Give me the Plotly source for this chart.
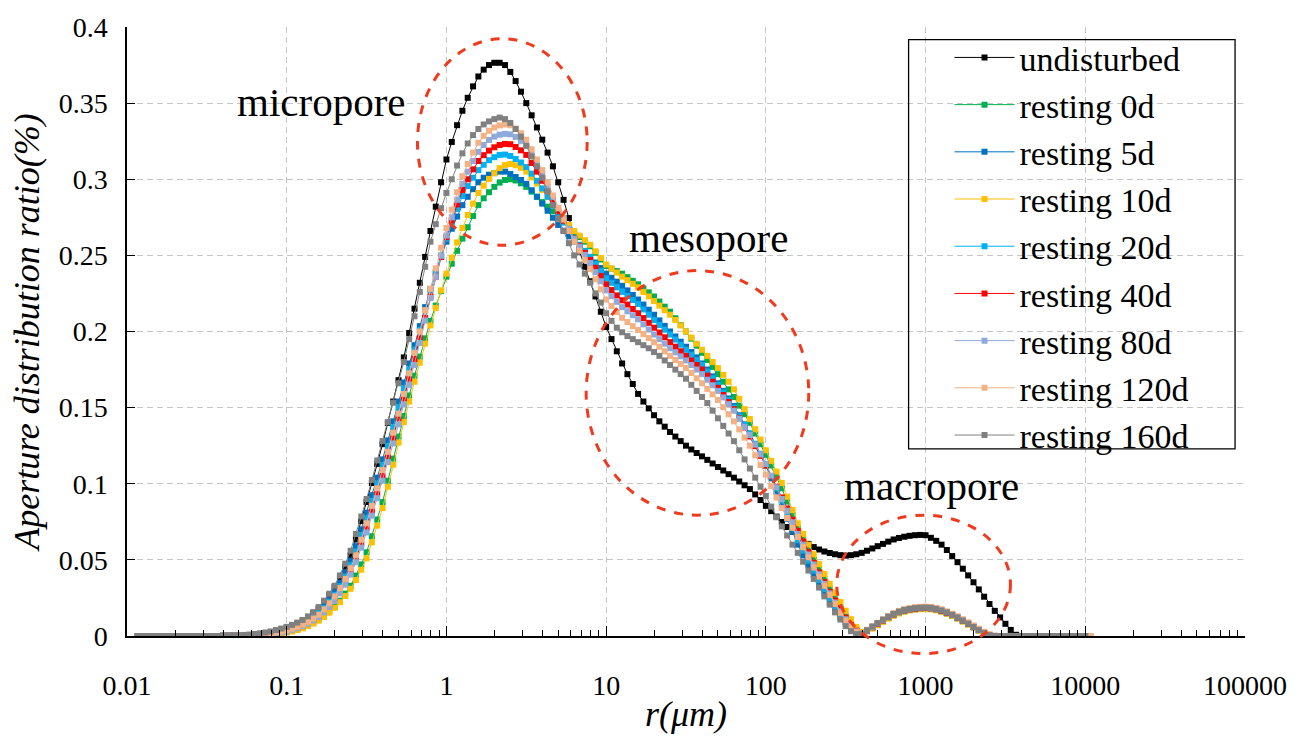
import plotly.graph_objects as go

# pore radius r (um), log grid of the instrument (30 points per decade)
r_um = [
    0.01166, 0.01259, 0.01359, 0.01468, 0.01585, 0.01711, 0.01848, 0.01995, 0.02154, 0.02326,
    0.02512, 0.02712, 0.02929, 0.03162, 0.03415, 0.03687, 0.03981, 0.04299, 0.04642, 0.05012,
    0.05412, 0.05843, 0.0631, 0.06813, 0.07356, 0.07943, 0.08577, 0.09261,
    0.1, 0.108, 0.1166, 0.1259, 0.1359, 0.1468, 0.1585, 0.1711, 0.1848, 0.1995,
    0.2154, 0.2326, 0.2512, 0.2712, 0.2929, 0.3162, 0.3415, 0.3687, 0.3981, 0.4299,
    0.4642, 0.5012, 0.5412, 0.5843, 0.631, 0.6813, 0.7356, 0.7943, 0.8577, 0.9261,
    1, 1.08, 1.166, 1.259, 1.359, 1.468, 1.585, 1.711, 1.848, 1.995,
    2.154, 2.326, 2.512, 2.712, 2.929, 3.162, 3.415, 3.687, 3.981, 4.299,
    4.642, 5.012, 5.412, 5.843, 6.31, 6.813, 7.356, 7.943, 8.577, 9.261,
    10, 10.8, 11.66, 12.59, 13.59, 14.68, 15.85, 17.11, 18.48, 19.95,
    21.54, 23.26, 25.12, 27.12, 29.29, 31.62, 34.15, 36.87, 39.81, 42.99,
    46.42, 50.12, 54.12, 58.43, 63.1, 68.13, 73.56, 79.43, 85.77, 92.61,
    100, 108, 116.6, 125.9, 135.9, 146.8, 158.5, 171.1, 184.8, 199.5,
    215.4, 232.6, 251.2, 271.2, 292.9, 316.2, 341.5, 368.7, 398.1, 429.9,
    464.2, 501.2, 541.2, 584.3, 631, 681.3, 735.6, 794.3, 857.7, 926.1,
    1000, 1080, 1166, 1259, 1359, 1468, 1585, 1711, 1848, 1995,
    2154, 2326, 2512, 2712, 2929, 3162, 3415, 3687, 3981, 4299,
    4642, 5012, 5412, 5843, 6310, 6813, 7356, 7943, 8577, 9261,
    10000, 10800,
]

undisturbed = [
    0, 0, 0, 0, 0, 0, 0, 0, 0, 0, 0, 0, 0, 0, 0, 0,
    0.0001, 0.0002, 0.0003, 0.0004, 0.0005, 0.0007, 0.001, 0.0014, 0.0019, 0.0025, 0.0034, 0.0044,
    0.0055, 0.0068, 0.0083, 0.01, 0.0123, 0.015, 0.018, 0.0222, 0.0268, 0.032,
    0.0385, 0.0455, 0.053, 0.0635, 0.0755, 0.088, 0.1005, 0.113, 0.126, 0.14,
    0.154, 0.168, 0.183, 0.199, 0.215, 0.232, 0.249, 0.266, 0.282, 0.298,
    0.313, 0.3245, 0.3355, 0.345, 0.3535, 0.361, 0.3675, 0.372, 0.375, 0.3765,
    0.3765, 0.375, 0.3705, 0.3645, 0.3575, 0.35, 0.342, 0.334, 0.326, 0.3175,
    0.3085, 0.298, 0.2865, 0.2745, 0.263, 0.2525, 0.2425, 0.233, 0.223, 0.213,
    0.203, 0.195, 0.187, 0.179, 0.172, 0.1655, 0.159, 0.154, 0.1495, 0.145,
    0.141, 0.1375, 0.134, 0.131, 0.128, 0.125, 0.1225, 0.1202, 0.118, 0.1157,
    0.1133, 0.111, 0.1087, 0.1063, 0.104, 0.1015, 0.099, 0.0965, 0.093, 0.0893,
    0.0855, 0.082, 0.0784, 0.0749, 0.0716, 0.0684, 0.0654, 0.0628, 0.0605, 0.0584,
    0.0568, 0.0555, 0.0545, 0.0537, 0.0531, 0.0528, 0.0531, 0.0537, 0.0546, 0.056,
    0.0575, 0.059, 0.0605, 0.062, 0.0634, 0.0644, 0.0652, 0.0658, 0.0662, 0.0664,
    0.0662, 0.0645, 0.0625, 0.06, 0.0565, 0.0525, 0.0485, 0.0442, 0.0398, 0.0353,
    0.0306, 0.0258, 0.021, 0.0165, 0.0122, 0.008, 0.004, 0.0008, 0, 0,
    0, 0, 0, 0, 0, 0, 0, 0, 0, 0,
    0, None,
]

resting_0d = [
    0, 0, 0, 0, 0, 0, 0, 0, 0, 0, 0, 0, 0, 0, 0, 0,
    0.0001, 0.0001, 0.0001, 0.0002, 0.0002, 0.0003, 0.0004, 0.0006, 0.0008, 0.001, 0.0014, 0.0019,
    0.0025, 0.0033, 0.0043, 0.0055, 0.0071, 0.0089, 0.011, 0.0133, 0.016, 0.019,
    0.0232, 0.0278, 0.033, 0.0397, 0.047, 0.055, 0.0655, 0.0765, 0.088, 0.102,
    0.1165, 0.131, 0.1445, 0.158, 0.171, 0.1835, 0.1955, 0.207, 0.217, 0.2265,
    0.236, 0.2445, 0.253, 0.261, 0.2685, 0.2758, 0.283, 0.2875, 0.2915, 0.295,
    0.2978, 0.2995, 0.3, 0.2992, 0.2973, 0.295, 0.2918, 0.2885, 0.285, 0.282,
    0.279, 0.276, 0.2723, 0.2687, 0.265, 0.262, 0.259, 0.256, 0.2517, 0.2473,
    0.243, 0.2413, 0.2397, 0.238, 0.2357, 0.2333, 0.231, 0.2283, 0.2257, 0.223,
    0.2197, 0.2163, 0.213, 0.2087, 0.2043, 0.2, 0.1953, 0.1907, 0.186, 0.1813,
    0.1767, 0.172, 0.167, 0.162, 0.157, 0.1513, 0.1457, 0.14, 0.133, 0.126,
    0.119, 0.112, 0.1045, 0.097, 0.0883, 0.0795, 0.071, 0.0638, 0.0568, 0.05,
    0.0437, 0.0373, 0.031, 0.025, 0.019, 0.013, 0.008, 0.0042, 0.0022, 0.0035,
    0.0055, 0.0075, 0.0097, 0.0118, 0.0136, 0.0151, 0.0162, 0.017, 0.0175, 0.0178,
    0.0179, 0.0177, 0.0171, 0.0161, 0.0148, 0.0133, 0.0116, 0.0097, 0.0077, 0.0057,
    0.0037, 0.0018, 0.0005, 0, 0, 0, 0, 0, 0, 0,
    0, 0, 0, 0, 0, 0, 0, 0, 0, 0,
    0, None,
]

resting_5d = [
    0, 0, 0, 0, 0, 0, 0, 0, 0, 0, 0, 0, 0, 0, 0, 0,
    0.0001, 0.0001, 0.0002, 0.0003, 0.0004, 0.0006, 0.0008, 0.0011, 0.0015, 0.002, 0.0027, 0.0035,
    0.0045, 0.0056, 0.0069, 0.0085, 0.0106, 0.0131, 0.016, 0.0197, 0.024, 0.029,
    0.035, 0.0418, 0.0495, 0.059, 0.07, 0.081, 0.0925, 0.104, 0.116, 0.1285,
    0.141, 0.154, 0.1665, 0.179, 0.191, 0.2035, 0.216, 0.228, 0.239, 0.249,
    0.259, 0.2675, 0.2755, 0.283, 0.2885, 0.2935, 0.298, 0.301, 0.303, 0.304,
    0.305, 0.305, 0.3035, 0.3015, 0.2995, 0.297, 0.2928, 0.2885, 0.284, 0.2793,
    0.2747, 0.27, 0.2662, 0.2625, 0.259, 0.2557, 0.2523, 0.249, 0.2453, 0.2417,
    0.238, 0.2353, 0.2327, 0.23, 0.227, 0.224, 0.221, 0.2177, 0.2143, 0.211,
    0.2073, 0.2037, 0.2, 0.1967, 0.1933, 0.19, 0.1865, 0.183, 0.179, 0.175,
    0.1705, 0.166, 0.161, 0.156, 0.151, 0.145, 0.139, 0.133, 0.126, 0.119,
    0.112, 0.1035, 0.0948, 0.086, 0.077, 0.0685, 0.06, 0.053, 0.0465, 0.04,
    0.034, 0.028, 0.022, 0.017, 0.012, 0.008, 0.0045, 0.0018, 0.001, 0.0032,
    0.0055, 0.0078, 0.0099, 0.012, 0.0138, 0.0153, 0.0164, 0.0172, 0.0177, 0.018,
    0.0181, 0.0179, 0.0173, 0.0163, 0.015, 0.0135, 0.0118, 0.0099, 0.0079, 0.0058,
    0.0038, 0.0019, 0.0005, 0, 0, 0, 0, 0, 0, 0,
    0, 0, 0, 0, 0, 0, 0, 0, 0, 0,
    0, None,
]

resting_10d = [
    0, 0, 0, 0, 0, 0, 0, 0, 0, 0, 0, 0, 0, 0, 0, 0,
    0.0001, 0.0001, 0.0001, 0.0002, 0.0002, 0.0003, 0.0004, 0.0005, 0.0007, 0.001, 0.0013, 0.0017,
    0.0023, 0.003, 0.0039, 0.005, 0.0065, 0.0081, 0.01, 0.0125, 0.0153, 0.0185,
    0.0222, 0.0263, 0.031, 0.0368, 0.0435, 0.051, 0.0615, 0.0725, 0.084, 0.098,
    0.1125, 0.127, 0.1405, 0.154, 0.167, 0.1795, 0.192, 0.204, 0.2155, 0.227,
    0.238, 0.2485, 0.2585, 0.268, 0.2765, 0.284, 0.291, 0.2958, 0.3002, 0.304,
    0.3073, 0.3093, 0.31, 0.3092, 0.3075, 0.305, 0.3012, 0.2972, 0.293, 0.2883,
    0.2837, 0.279, 0.2745, 0.27, 0.266, 0.263, 0.26, 0.257, 0.2527, 0.2483,
    0.244, 0.2413, 0.2387, 0.236, 0.2337, 0.2313, 0.229, 0.226, 0.223, 0.22,
    0.217, 0.214, 0.211, 0.2075, 0.204, 0.2, 0.196, 0.192, 0.188, 0.184,
    0.18, 0.176, 0.1715, 0.167, 0.162, 0.1558, 0.149, 0.1425, 0.1358, 0.129,
    0.122, 0.115, 0.108, 0.1005, 0.0915, 0.0827, 0.074, 0.067, 0.06, 0.0537,
    0.0472, 0.0407, 0.0343, 0.0283, 0.0223, 0.0166, 0.011, 0.006, 0.0028, 0.003,
    0.0048, 0.007, 0.0092, 0.0114, 0.0133, 0.0148, 0.016, 0.0168, 0.0173, 0.0176,
    0.0177, 0.0175, 0.0169, 0.0159, 0.0146, 0.0131, 0.0114, 0.0095, 0.0075, 0.0055,
    0.0035, 0.0017, 0.0004, 0, 0, 0, 0, 0, 0, 0,
    0, 0, 0, 0, 0, 0, 0, 0, 0, 0,
    0, None,
]

resting_20d = [
    0, 0, 0, 0, 0, 0, 0, 0, 0, 0, 0, 0, 0, 0, 0, 0,
    0.0001, 0.0001, 0.0002, 0.0003, 0.0004, 0.0005, 0.0007, 0.001, 0.0014, 0.0018, 0.0024, 0.0031,
    0.004, 0.0051, 0.0064, 0.008, 0.0099, 0.0122, 0.015, 0.0184, 0.0224, 0.027,
    0.0327, 0.039, 0.0465, 0.0555, 0.066, 0.077, 0.0885, 0.1, 0.112, 0.1245,
    0.137, 0.15, 0.1625, 0.175, 0.188, 0.201, 0.214, 0.227, 0.2385, 0.25,
    0.261, 0.271, 0.2805, 0.289, 0.2955, 0.301, 0.306, 0.3095, 0.3125, 0.3145,
    0.316, 0.3162, 0.3153, 0.3133, 0.311, 0.308, 0.3037, 0.299, 0.294, 0.2885,
    0.2827, 0.277, 0.2715, 0.266, 0.261, 0.257, 0.253, 0.249, 0.2443, 0.2397,
    0.235, 0.232, 0.229, 0.226, 0.2233, 0.2207, 0.218, 0.2145, 0.211, 0.2075,
    0.2043, 0.2012, 0.198, 0.1947, 0.1913, 0.188, 0.1847, 0.1813, 0.178, 0.1737,
    0.1693, 0.165, 0.16, 0.155, 0.15, 0.1443, 0.1387, 0.133, 0.1263, 0.1197,
    0.113, 0.105, 0.097, 0.089, 0.08, 0.0713, 0.063, 0.0562, 0.0495, 0.043,
    0.0368, 0.0308, 0.025, 0.0195, 0.014, 0.009, 0.005, 0.002, 0.0012, 0.0034,
    0.0057, 0.008, 0.0102, 0.0123, 0.0141, 0.0156, 0.0167, 0.0174, 0.0179, 0.0182,
    0.0183, 0.0181, 0.0175, 0.0165, 0.0152, 0.0137, 0.012, 0.0101, 0.0081, 0.006,
    0.004, 0.002, 0.0006, 0, 0, 0, 0, 0, 0, 0,
    0, 0, 0, 0, 0, 0, 0, 0, 0, 0,
    0, None,
]

resting_40d = [
    0, 0, 0, 0, 0, 0, 0, 0, 0, 0, 0, 0, 0, 0, 0, 0,
    0.0001, 0.0001, 0.0001, 0.0002, 0.0003, 0.0004, 0.0006, 0.0008, 0.0011, 0.0015, 0.002, 0.0027,
    0.0035, 0.0045, 0.0056, 0.007, 0.0088, 0.011, 0.0135, 0.0168, 0.0206, 0.025,
    0.0302, 0.0358, 0.0425, 0.0508, 0.0605, 0.071, 0.082, 0.0935, 0.105, 0.1175,
    0.13, 0.143, 0.156, 0.169, 0.182, 0.1955, 0.209, 0.223, 0.236, 0.249,
    0.262, 0.273, 0.2835, 0.293, 0.3, 0.3065, 0.312, 0.3158, 0.3188, 0.321,
    0.3225, 0.3232, 0.323, 0.3212, 0.319, 0.316, 0.3107, 0.305, 0.299, 0.2925,
    0.2858, 0.279, 0.2728, 0.2668, 0.261, 0.2562, 0.2516, 0.247, 0.2418, 0.2364,
    0.231, 0.2272, 0.2237, 0.2205, 0.2177, 0.2148, 0.212, 0.2088, 0.2057, 0.2025,
    0.1993, 0.1962, 0.193, 0.19, 0.187, 0.184, 0.181, 0.178, 0.175, 0.171,
    0.167, 0.163, 0.1583, 0.1537, 0.149, 0.143, 0.137, 0.131, 0.1247, 0.1183,
    0.112, 0.105, 0.098, 0.091, 0.0837, 0.0763, 0.069, 0.062, 0.055, 0.048,
    0.0417, 0.0353, 0.029, 0.0233, 0.0177, 0.012, 0.0072, 0.0035, 0.0018, 0.0035,
    0.0058, 0.008, 0.0102, 0.0124, 0.0142, 0.0157, 0.0168, 0.0175, 0.018, 0.0183,
    0.0184, 0.0182, 0.0176, 0.0166, 0.0153, 0.0138, 0.0121, 0.0102, 0.0082, 0.0061,
    0.004, 0.0021, 0.0006, 0, 0, 0, 0, 0, 0, 0,
    0, 0, 0, 0, 0, 0, 0, 0, 0, 0,
    0, None,
]

resting_80d = [
    0, 0, 0, 0, 0, 0, 0, 0, 0, 0, 0, 0, 0, 0, 0, 0,
    0.0001, 0.0001, 0.0001, 0.0002, 0.0003, 0.0004, 0.0005, 0.0007, 0.001, 0.0013, 0.0018, 0.0023,
    0.003, 0.004, 0.0051, 0.0065, 0.0082, 0.0102, 0.0125, 0.0155, 0.019, 0.023,
    0.028, 0.0337, 0.0403, 0.0485, 0.058, 0.068, 0.079, 0.0905, 0.102, 0.1142,
    0.1265, 0.139, 0.152, 0.165, 0.178, 0.1925, 0.2072, 0.222, 0.236, 0.2497,
    0.263, 0.275, 0.2865, 0.297, 0.305, 0.312, 0.318, 0.3225, 0.3258, 0.328,
    0.3293, 0.3298, 0.3295, 0.3278, 0.3252, 0.322, 0.316, 0.3097, 0.303, 0.2957,
    0.2883, 0.281, 0.2742, 0.2675, 0.261, 0.2557, 0.2503, 0.245, 0.239, 0.233,
    0.227, 0.2232, 0.2195, 0.216, 0.2133, 0.2107, 0.208, 0.2047, 0.2013, 0.198,
    0.195, 0.192, 0.189, 0.1863, 0.1837, 0.181, 0.178, 0.175, 0.172, 0.1683,
    0.1647, 0.161, 0.1567, 0.1523, 0.148, 0.1427, 0.1373, 0.132, 0.1257, 0.1193,
    0.113, 0.1053, 0.0977, 0.09, 0.0823, 0.0747, 0.067, 0.06, 0.0535, 0.047,
    0.0405, 0.0342, 0.028, 0.022, 0.0162, 0.011, 0.0065, 0.003, 0.0018, 0.0037,
    0.006, 0.0083, 0.0106, 0.0127, 0.0145, 0.016, 0.0171, 0.0178, 0.0184, 0.0187,
    0.0188, 0.0186, 0.018, 0.017, 0.0157, 0.0141, 0.0124, 0.0105, 0.0085, 0.0064,
    0.0043, 0.0023, 0.0008, 0.0001, 0, 0, 0, 0, 0, 0,
    0, 0, 0, 0, 0, 0, 0, 0, 0, 0,
    0, 0,
]

resting_120d = [
    0, 0, 0, 0, 0, 0, 0, 0, 0, 0, 0, 0, 0, 0, 0, 0,
    0.0001, 0.0001, 0.0002, 0.0003, 0.0004, 0.0005, 0.0007, 0.001, 0.0013, 0.0017, 0.0023, 0.003,
    0.0038, 0.0048, 0.006, 0.0075, 0.0093, 0.0115, 0.014, 0.0175, 0.0215, 0.026,
    0.0315, 0.0375, 0.0445, 0.053, 0.0632, 0.074, 0.0855, 0.097, 0.109, 0.121,
    0.1335, 0.146, 0.159, 0.1725, 0.186, 0.2, 0.214, 0.228, 0.2415, 0.255,
    0.268, 0.28, 0.2915, 0.302, 0.31, 0.3175, 0.324, 0.3285, 0.3318, 0.334,
    0.3354, 0.336, 0.3355, 0.3333, 0.3302, 0.326, 0.3197, 0.313, 0.306, 0.2977,
    0.2893, 0.281, 0.2735, 0.266, 0.259, 0.253, 0.247, 0.241, 0.2343, 0.2277,
    0.221, 0.2168, 0.2128, 0.209, 0.2062, 0.2035, 0.201, 0.1983, 0.1957, 0.193,
    0.19, 0.187, 0.184, 0.1813, 0.1787, 0.176, 0.1727, 0.1693, 0.166, 0.1623,
    0.1587, 0.155, 0.1503, 0.1457, 0.141, 0.1357, 0.1303, 0.125, 0.1187, 0.1123,
    0.106, 0.0985, 0.091, 0.084, 0.0775, 0.071, 0.065, 0.0583, 0.0517, 0.045,
    0.039, 0.033, 0.027, 0.021, 0.0152, 0.01, 0.0058, 0.0028, 0.002, 0.0041,
    0.0064, 0.0087, 0.011, 0.0131, 0.015, 0.0165, 0.0176, 0.0183, 0.0189, 0.0192,
    0.0193, 0.0191, 0.0185, 0.0175, 0.0162, 0.0146, 0.0129, 0.011, 0.009, 0.0069,
    0.0048, 0.0028, 0.0012, 0.0003, 0, 0, 0, 0, 0, 0,
    0, 0, 0, 0, 0, 0, 0, 0, 0, 0,
    0, 0,
]

resting_160d = [
    0, 0, 0, 0, 0, 0, 0, 0, 0, 0, 0, 0, 0, 0, 0, 0,
    0.0002, 0.0003, 0.0004, 0.0005, 0.0007, 0.0009, 0.0012, 0.0017, 0.0023, 0.003, 0.0039, 0.0049,
    0.006, 0.0073, 0.0088, 0.0105, 0.0129, 0.0157, 0.019, 0.0232, 0.0278, 0.033,
    0.0398, 0.0475, 0.056, 0.067, 0.0785, 0.09, 0.1025, 0.1153, 0.128, 0.1405,
    0.1532, 0.166, 0.18, 0.195, 0.21, 0.226, 0.2425, 0.259, 0.2705, 0.281,
    0.291, 0.3, 0.309, 0.317, 0.3235, 0.329, 0.333, 0.336, 0.338, 0.3395,
    0.3405, 0.3395, 0.337, 0.333, 0.328, 0.322, 0.315, 0.3085, 0.301, 0.292,
    0.283, 0.274, 0.266, 0.258, 0.25, 0.244, 0.238, 0.232, 0.225, 0.219,
    0.212, 0.207, 0.2025, 0.1995, 0.197, 0.195, 0.193, 0.191, 0.189, 0.1865,
    0.184, 0.181, 0.178, 0.175, 0.172, 0.169, 0.165, 0.161, 0.157, 0.153,
    0.148, 0.143, 0.138, 0.133, 0.128, 0.122, 0.116, 0.11, 0.104, 0.098,
    0.092, 0.085, 0.078, 0.072, 0.066, 0.06, 0.0546, 0.0488, 0.043, 0.0375,
    0.0318, 0.026, 0.0206, 0.0155, 0.0108, 0.0065, 0.0032, 0.0012, 0.0015, 0.0038,
    0.0062, 0.0085, 0.0107, 0.0127, 0.0145, 0.016, 0.0171, 0.0178, 0.0183, 0.0186,
    0.0187, 0.0185, 0.0178, 0.0168, 0.0155, 0.0139, 0.0122, 0.0102, 0.0081, 0.006,
    0.0039, 0.002, 0.0006, 0, 0, 0, 0, 0, 0, 0,
    0, 0, 0, 0, 0, 0, 0, 0, 0, 0,
    0, None,
]

series = [
    ("undisturbed", undisturbed, "#000000"),
    ("resting 0d", resting_0d, "#00b050"),
    ("resting 5d", resting_5d, "#0070c0"),
    ("resting 10d", resting_10d, "#ffc000"),
    ("resting 20d", resting_20d, "#00b0f0"),
    ("resting 40d", resting_40d, "#ff0000"),
    ("resting 80d", resting_80d, "#8eaadb"),
    ("resting 120d", resting_120d, "#f4b183"),
    ("resting 160d", resting_160d, "#808080"),
]

x_ticks = [0.01, 0.1, 1, 10, 100, 1000, 10000, 100000]
x_labels = ["0.01", "0.1", "1", "10", "100", "1000", "10000", "100000"]
y_ticks = [0, 0.05, 0.1, 0.15, 0.2, 0.25, 0.3, 0.35, 0.4]
y_labels = ["0", "0.05", "0.1", "0.15", "0.2", "0.25", "0.3", "0.35", "0.4"]

# ticks menores do eixo log (2..9 em cada decada)
minor_vals = [d * m for d in x_ticks[:-1] for m in range(2, 10)]

serif = "Liberation Serif, Times New Roman, serif"
vermelho = "rgb(240,58,30)"

fig = go.Figure()
for nome, valores, cor in series:
    assert len(valores) == len(r_um), nome
    fig.add_trace(go.Scatter(
        x=r_um,
        y=valores,
        mode="lines+markers",
        name=nome,
        line=dict(color=cor, width=1),
        marker=dict(symbol="square", size=6, color=cor),
    ))

# elipses tracejadas (em coordenadas do papel)
elipses = [
    (0.2598, 0.6416, 0.4116, 0.9808),
    (0.4107, 0.1984, 0.6098, 0.6000),
    (0.6348, -0.0288, 0.7902, 0.1984),
]
for x0, y0, x1, y1 in elipses:
    fig.add_shape(type="circle", xref="paper", yref="paper", x0=x0, y0=y0, x1=x1, y1=y1,
                  line=dict(color=vermelho, width=3, dash="dash"), layer="above")

# caixa da legenda
fig.add_shape(type="rect", xref="paper", yref="paper", x0=0.6991, y0=0.3072, x1=0.9911, y1=0.9792,
              line=dict(color="black", width=1.3), fillcolor="rgba(0,0,0,0)", layer="above")

rotulos = [("micropore", 0.1732, 0.877), ("mesopore", 0.5197, 0.654), ("macropore", 0.7197, 0.246)]
for texto, px, py in rotulos:
    fig.add_annotation(text=texto, x=px, y=py, xref="paper", yref="paper", showarrow=False,
                       xanchor="center", yanchor="middle", font=dict(family=serif, size=41, color="black"))

fig.update_layout(
    width=1299,
    height=739,
    margin=dict(l=127, r=52, t=22, b=92),
    plot_bgcolor="white",
    paper_bgcolor="white",
    font=dict(family=serif, size=28, color="black"),
    legend=dict(
        x=0.7357, y=0.997, xanchor="left", yanchor="top",
        bgcolor="rgba(0,0,0,0)", borderwidth=0,
        font=dict(family=serif, size=34, color="black"),
        itemwidth=60,
    ),
    xaxis=dict(
        type="log", range=[-2, 5],
        tickmode="array", tickvals=x_ticks, ticktext=x_labels,
        ticks="inside", ticklen=10, tickwidth=1, tickcolor="black",
        ticklabelstandoff=24,
        showline=True, linecolor="black", linewidth=1.5,
        showgrid=True, gridcolor="#c6c6c6", gridwidth=1, griddash="6px,4px",
        zeroline=False,
        minor=dict(tickvals=minor_vals, ticks="inside", ticklen=6, tickwidth=1,
                   tickcolor="black", showgrid=False),
        title=dict(text="<i>r(μm)</i>", font=dict(family=serif, size=36), standoff=0),
    ),
    yaxis=dict(
        range=[0, 0.4],
        tickmode="array", tickvals=y_ticks, ticktext=y_labels,
        ticks="inside", ticklen=8, tickwidth=1, tickcolor="black",
        ticklabelstandoff=12,
        showline=True, linecolor="black", linewidth=1.5,
        showgrid=True, gridcolor="#c6c6c6", gridwidth=1, griddash="6px,4px",
        zeroline=False,
        title=dict(text="<i>Aperture distribution ratio(%)</i>", font=dict(family=serif, size=36), standoff=8),
    ),
)

fig.write_html("out.html", config={"displayModeBar": False},
               post_script="document.body.style.margin='0';")
